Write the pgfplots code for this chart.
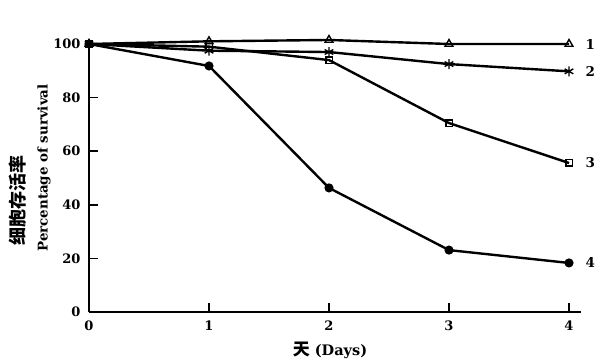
\documentclass[border=0pt]{standalone}
\usepackage{fontspec}
\setmainfont{DejaVu Serif}
\newfontfamily\cjk{Noto Sans CJK SC}
\usepackage{pgfplots}
\pgfplotsset{compat=1.18}
\begin{document}
\begin{tikzpicture}
\path[use as bounding box] (-89pt,-49pt) rectangle (510pt,312pt);
\begin{axis}[
  at={(0,0)}, anchor=south west,
  scale only axis, width=492pt, height=268pt,
  xmin=0, xmax=4.1, ymin=0, ymax=100,
  axis x line=bottom, axis y line=left,
  axis line style={-, line width=1.8pt},
  clip=false,
  xtick={0,1,2,3,4}, ytick={0,20,40,60,80,100},
  tick align=inside,
  major tick length=9pt,
  tick style={line width=1.5pt, black},
  /pgf/number format/assume math mode=true,
  tick label style={font=\fontsize{13}{15}\selectfont\bfseries},
  xticklabel style={yshift=-5pt},
  yticklabel style={xshift=-5pt},
  every axis plot/.append style={line width=2.4pt, black},
]
\addplot[mark=triangle, mark size=4.5pt, mark options={line width=1.4pt, fill=white}] coordinates {(0,100) (1,101) (2,101.5) (3,100) (4,100)};
\addplot[mark=asterisk, mark size=5pt, mark options={line width=1.4pt}] coordinates {(0,100) (1,97.5) (2,97) (3,92.5) (4,89.8)};
\addplot[mark=square, mark size=3.2pt, mark options={line width=1.4pt, fill=white}] coordinates {(0,100) (1,99) (2,94) (3,70.5) (4,55.6)};
\addplot[mark=*, mark size=3.3pt] coordinates {(0,100) (1,91.8) (2,46.3) (3,23.1) (4,18.3)};
\node[anchor=west, font=\fontsize{13.5}{15}\selectfont\bfseries] at (axis cs:4,100) [xshift=13pt] {1};
\node[anchor=west, font=\fontsize{13.5}{15}\selectfont\bfseries] at (axis cs:4,89.8) [xshift=13pt] {2};
\node[anchor=west, font=\fontsize{13.5}{15}\selectfont\bfseries] at (axis cs:4,55.6) [xshift=13pt] {3};
\node[anchor=west, font=\fontsize{13.5}{15}\selectfont\bfseries] at (axis cs:4,18.3) [xshift=13pt] {4};
\end{axis}
\node[rotate=90, font=\fontsize{18}{20}\selectfont\cjk\bfseries] at (-71pt,111pt) {细胞存活率};
\node[rotate=90, font=\fontsize{13.4}{15}\selectfont\bfseries] at (-45pt,144pt) {Percentage of survival};
\node[font=\fontsize{14.5}{16}\selectfont\bfseries] at (241pt,-38pt) {{\cjk\fontsize{17}{19}\selectfont\bfseries 天} (Days)};
\end{tikzpicture}
\end{document}
